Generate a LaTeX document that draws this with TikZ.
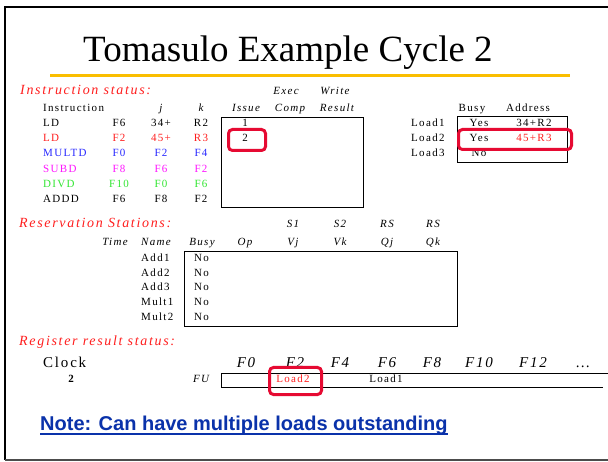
\documentclass[tikz,border=0pt]{standalone}
\usepackage{fontspec}
\setmainfont{Liberation Serif}
\newfontfamily\lsfont[LetterSpace=12]{Liberation Serif}
\newfontfamily\notefont{Liberation Sans}
\definecolor{hired}{RGB}{255,30,30}
\definecolor{hiblue}{RGB}{40,40,255}
\definecolor{himag}{RGB}{255,20,255}
\definecolor{higreen}{RGB}{50,230,50}
\definecolor{hibox}{RGB}{230,10,50}
\definecolor{notebl}{RGB}{10,50,170}
\definecolor{rulecol}{RGB}{250,190,0}
\begin{document}
\begin{tikzpicture}[x=1pt,y=-1pt,
  cell/.style={inner sep=0pt, anchor=base, font=\lsfont\fontsize{11}{12}\selectfont},
  cellw/.style={cell, anchor=base west},
  celli/.style={cell, font=\lsfont\itshape\fontsize{11}{12}\selectfont},
  bigi/.style={cell, font=\lsfont\itshape\fontsize{15}{17}\selectfont},
  secttl/.style={inner sep=0pt, anchor=base west, text=hired, font=\lsfont\itshape\fontsize{14}{16}\selectfont},
  tbl/.style={draw, line width=0.9pt, inner sep=0pt, anchor=north west},
  hilite/.style={draw=hibox, line width=3pt, rounded corners=4pt, inner sep=0pt, anchor=north west}]
\useasboundingbox (0,0) rectangle (608,462);
\fill[white] (0,0) rectangle (608,462);

% slide frame
\draw[line width=2.5pt] (608,7) -- (5,7) -- (5,460);
\draw[gray!60!black, line width=2pt] (5,460) -- (608,460);

% title and rule
\node[inner sep=0pt, anchor=base west, font=\fontsize{37}{40}\selectfont] (title) at (83,62) {Tomasulo Example Cycle 2};
\draw[rulecol, line width=3pt] (50,75.5) -- (570,75.5);

% ---------- instruction status ----------
\node[secttl] (instat) at (20,95) {Instruction status:};
\node[celli] (hexec) at (286,95) {Exec};
\node[celli] (hwrite) at (335,95) {Write};
\node[cellw] (hinstr) at (43,112) {Instruction};
\node[celli] (hj) at (161,112) {j};
\node[celli] (hk) at (201,112) {k};
\node[celli] (hissue) at (246,112) {Issue};
\node[celli] (hcomp) at (290,112) {Comp};
\node[celli] (hres) at (337,112) {Result};

\node[tbl, minimum width=142pt, minimum height=90pt] (ibox) at (221,117) {};

\foreach \yy/\col/\op/\dd/\jj/\kk [count=\i] in
  {127/black/LD/F6/34+/R2, 142/hired/LD/F2/45+/R3, 157/hiblue/MULTD/F0/F2/F4,
   173/himag/SUBD/F8/F6/F2, 188/higreen/DIVD/F10/F0/F6, 203/black/ADDD/F6/F8/F2} {
  \node[cellw, text=\col] (op\i) at (43,\yy) {\op};
  \node[cell, text=\col] (dst\i) at (119,\yy) {\dd};
  \node[cell, text=\col] (srcj\i) at (161,\yy) {\jj};
  \node[cell, text=\col] (srck\i) at (201,\yy) {\kk};
}
\node[cell] (iss1) at (245,127) {1};
\node[cell] (iss2) at (245,142) {2};
\node[hilite, minimum width=37pt, minimum height=21pt] (hliss) at (227,128) {};

% load buffers
\node[cell] (hbusy) at (472,112) {Busy};
\node[cell] (haddr) at (528,112) {Address};
\node[tbl, minimum width=110pt, minimum height=46pt] (lbox) at (457,116) {};
\foreach \yy/\nm/\bs/\ad/\col [count=\i] in
  {127/Load1/Yes/34+R2/black, 142/Load2/Yes/45+R3/hired, 157/Load3/No//black} {
  \node[cellw] (ld\i) at (411,\yy) {\nm};
  \node[cell] (ldb\i) at (479,\yy) {\bs};
  \node[cell, text=\col] (lda\i) at (534,\yy) {\ad};
}
\node[hilite, minimum width=113pt, minimum height=20pt] (hlload) at (457,128) {};

% ---------- reservation stations ----------
\node[secttl] (rsttl) at (19,228) {Reservation Stations:};
\foreach \xx/\tx [count=\i] in {293/S1, 340/S2, 387/RS, 433/RS}
  \node[celli] (rsa\i) at (\xx,228) {\tx};
\foreach \xx/\tx [count=\i] in {115/Time, 156/Name, 202/Busy, 245/Op, 293/Vj, 340/Vk, 387/Qj, 433/Qk}
  \node[celli] (rsb\i) at (\xx,246) {\tx};
\node[tbl, minimum width=273pt, minimum height=75pt] (rsbox) at (184,251) {};
\foreach \yy/\nm [count=\i] in {262/Add1, 277/Add2, 291/Add3, 306/Mult1, 321/Mult2} {
  \node[cellw] (rsn\i) at (141,\yy) {\nm};
  \node[cellw] (rsbz\i) at (194,\yy) {No};
}

% ---------- register result status ----------
\node[secttl] (regttl) at (19,346) {Register result status:};
\node[cellw, font=\lsfont\fontsize{15}{17}\selectfont] (clock) at (43,367) {Clock};
\node[cell, font=\lsfont\bfseries\fontsize{11}{12}\selectfont] (clkv) at (71,382) {2};
\foreach \xx/\tx [count=\i] in {246/F0, 295/F2, 340/F4, 387/F6, 432/F8, 479/F10, 533/F12}
  \node[bigi] (reg\i) at (\xx,367) {\tx};
\node[bigi] (regmore) at (583,367) {\ldots};
\node[celli] (fu) at (201,382) {FU};
\draw[line width=0.9pt] (608,373) -- (221,373) -- (221,387) -- (603,387);
\node[cell, text=hired] (fuload2) at (293,383) {Load2};
\node[cell] (fuload1) at (386,383) {Load1};
\node[hilite, minimum width=52pt, minimum height=27pt] (hlreg) at (268,366) {};

% note
\node[inner sep=0pt, anchor=base west, text=notebl, font=\notefont\bfseries\fontsize{20}{22}\selectfont] (note) at (40,430) {Note: Can have multiple loads outstanding};
\draw[notebl, line width=1.8pt] ([yshift=-4pt]note.base west) -- ([yshift=-4pt]note.base east);
\end{tikzpicture}
\end{document}
